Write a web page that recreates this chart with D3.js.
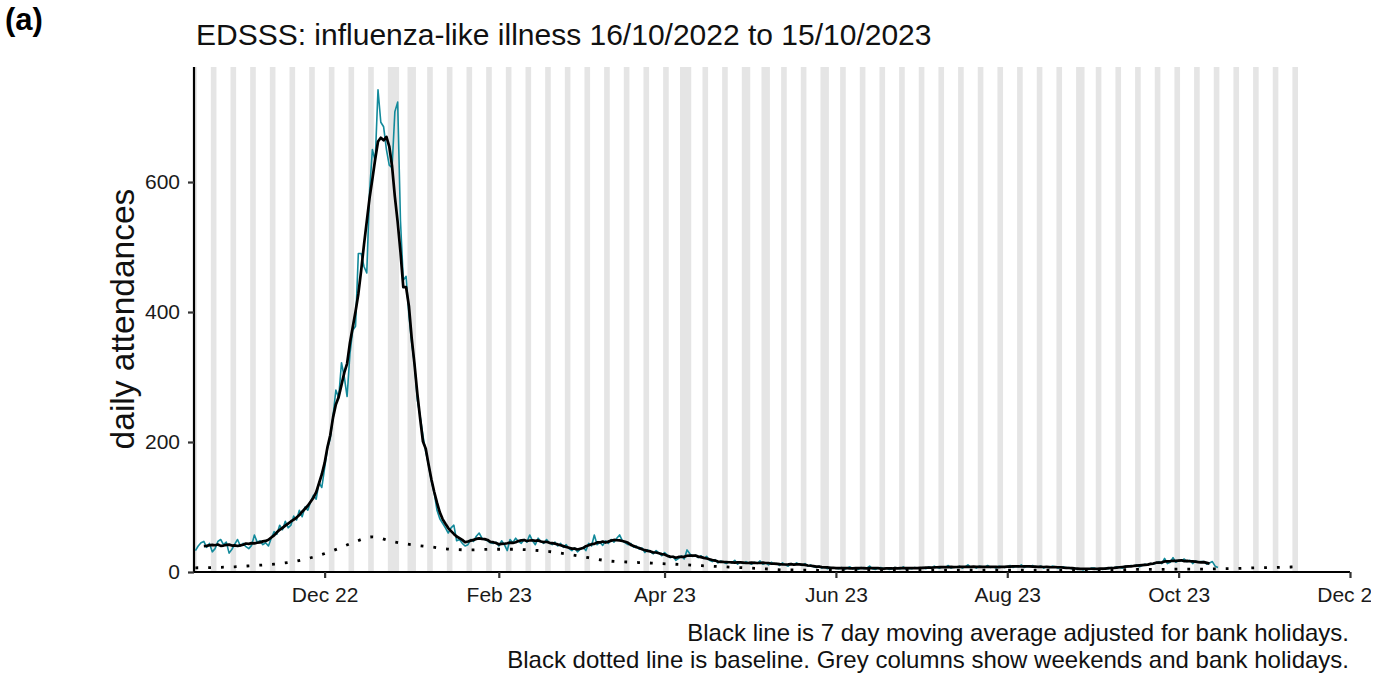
<!DOCTYPE html>
<html>
<head>
<meta charset="utf-8">
<script src="https://cdn.jsdelivr.net/npm/d3@7"></script>
<style>
  body { margin: 0; background: #fff; }
  text { font-family: "Liberation Sans", Arial, sans-serif; }
</style>
</head>
<body>
<div id="chart"></div>
<script>
// daily attendances, one array per month (16/10/2022 to 15/10/2023)
const oct22 = [33, 40, 45, 47, 38, 44, 31, 36, 47, 50, 42, 46, 29, 35, 43, 50];
const nov22 = [40, 44, 39, 36, 41, 57, 46, 48, 42, 45, 40, 52, 62, 58, 72, 65, 78, 68, 72, 86,
               80, 95, 85, 100, 95, 108, 118, 112, 138, 130];
const dec22 = [160, 190, 205, 240, 280, 268, 322, 300, 270, 335, 372, 378, 490, 490, 470, 460,
               585, 650, 632, 742, 692, 685, 650, 626, 622, 708, 723, 540, 449, 455, 395];
const jan23 = [352, 320, 265, 240, 210, 185, 165, 140, 122, 95, 82, 75, 68, 60, 68, 72, 48, 50,
               44, 40, 42, 50, 47, 55, 60, 52, 50, 48, 45, 44, 46];
const feb23 = [40, 48, 42, 33, 50, 45, 52, 47, 44, 50, 46, 57, 48, 42, 52, 47, 44, 50, 45, 42,
               46, 40, 44, 38, 42, 36, 33, 37];
const mar23 = [31, 35, 38, 33, 44, 40, 57, 42, 46, 41, 48, 44, 50, 46, 52, 57, 48, 45, 42, 44,
               38, 40, 35, 37, 30, 34, 31, 28, 33, 29, 25];
const apr23 = [30, 26, 22, 24, 18, 21, 25, 20, 34, 28, 24, 26, 22, 25, 21, 24, 18, 16, 19, 14,
               17, 15, 13, 16, 14, 18, 12, 15, 13, 16];
const may23 = [14, 12, 15, 13, 17, 12, 14, 11, 15, 12, 13, 10, 14, 11, 9, 13, 11, 14, 12, 10,
               13, 9, 11, 8, 7, 9, 6, 8, 5, 7, 6];
const jun23 = [6, 5, 7, 4, 6, 8, 5, 6, 4, 7, 5, 6, 9, 5, 4, 6, 7, 5, 6, 4,
               5, 7, 6, 5, 8, 4, 6, 5, 7, 6];
const jul23 = [6, 7, 5, 8, 6, 9, 7, 6, 8, 7, 10, 6, 8, 7, 9, 6, 8, 11, 7, 8,
               6, 9, 8, 7, 10, 7, 8, 6, 9, 8, 7];
const aug23 = [8, 10, 7, 9, 8, 11, 7, 9, 8, 10, 7, 8, 9, 6, 8, 7, 9, 8, 6, 7,
               8, 6, 7, 5, 6, 4, 5, 3, 5, 4, 6];
const sep23 = [6, 4, 5, 4, 6, 5, 7, 6, 8, 7, 6, 9, 8, 10, 9, 11, 8, 10, 12, 11,
               13, 12, 14, 16, 13, 21, 13, 15, 22, 15];
const oct23 = [18, 17, 20, 16, 18, 13, 17, 15, 16, 16, 12, 14, 16, 9, 7];

// weekly baseline, every 7 days from 16/10/2022 to 12/11/2023
const baselineWeekly = [6.5, 7, 8, 10, 12, 16, 23, 33, 45, 54,
                        47, 42, 38.5, 35, 34, 35, 35, 34, 31.5, 27,
                        22, 17, 15.3, 14, 12.5, 11, 9.3, 7.8, 6.3, 4.8,
                        3.2, 3, 2.5, 2.5, 2.5, 2.5, 2.5, 2.5, 3, 3,
                        3, 3, 3, 3, 3, 3, 3.5, 3.5, 4, 4,
                        4.5, 4.5, 5, 5.5, 6.5, 7, 8];

const bankHolidays = ["2022-12-26", "2022-12-27", "2023-01-02", "2023-04-07", "2023-04-10",
                      "2023-05-01", "2023-05-08", "2023-05-29", "2023-08-28"];
const tickDates = ["2022-12-01", "2023-02-01", "2023-04-01", "2023-06-01", "2023-08-01",
                   "2023-10-01", "2023-12-01"];
const yTicks = [0, 200, 400, 600];

const parse = d3.utcParse("%Y-%m-%d");
const start = parse("2022-10-16");
const columnsEnd = parse("2023-11-12");

const daily = [].concat(oct22, nov22, dec22, jan23, feb23, mar23, apr23, may23,
                        jun23, jul23, aug23, sep23, oct23)
    .map((v, i) => ({date: d3.utcDay.offset(start, i), value: v}));
const holidaySet = new Set(bankHolidays);
const isHoliday = d => holidaySet.has(d3.utcFormat("%Y-%m-%d")(d));

// 7 day centred moving average, bank holidays left out of the window
const movingAvg = [];
for (let i = 3; i < daily.length - 3; i++) {
    let win = daily.slice(i - 3, i + 4).filter(d => !isHoliday(d.date));
    movingAvg.push({date: daily[i].date, value: d3.mean(win, d => d.value)});
}

const baseline = baselineWeekly.map((v, i) => ({date: d3.utcDay.offset(start, i * 7), value: v}));

// weekend + bank holiday runs for the grey columns
const greyRuns = [];
d3.utcDays(start, d3.utcDay.offset(columnsEnd, 1)).forEach(function(d) {
    let wd = d.getUTCDay();
    if (wd === 0 || wd === 6 || isHoliday(d)) {
        let last = greyRuns[greyRuns.length - 1];
        if (last && +d3.utcDay.offset(last.end, 1) === +d) last.end = d;
        else greyRuns.push({start: d, end: d});
    }
});

const width = 1391, height = 674;
const svg = d3.select("#chart").append("svg")
    .attr("width", width)
    .attr("height", height);

const x = d3.scaleUtc()
    .domain([d3.utcHour.offset(start, -12), parse("2023-12-01")])
    .range([194, 1350]);
const y = d3.scaleLinear()
    .domain([0, 777])
    .range([572, 67]);

const half = d => d3.utcHour.offset(d, 12);

// grey columns
svg.append("g")
    .selectAll("rect")
    .data(greyRuns)
    .enter()
    .append("rect")
    .attr("x", d => x(d3.utcHour.offset(d.start, -12)))
    .attr("width", d => x(half(d.end)) - x(d3.utcHour.offset(d.start, -12)))
    .attr("y", y(777))
    .attr("height", y(0) - y(777))
    .attr("fill", "#e5e5e5");

const line = d3.line()
    .x(d => x(d.date))
    .y(d => y(d.value));

svg.append("path")
    .datum(daily)
    .attr("fill", "none")
    .attr("stroke", "#138a9b")
    .attr("stroke-width", 1.6)
    .attr("stroke-linejoin", "round")
    .attr("d", line);

svg.append("path")
    .datum(baseline)
    .attr("fill", "none")
    .attr("stroke", "#000")
    .attr("stroke-width", 2.8)
    .attr("stroke-dasharray", "2.8 10")
    .attr("d", line.curve(d3.curveMonotoneX));

svg.append("path")
    .datum(movingAvg)
    .attr("fill", "none")
    .attr("stroke", "#000")
    .attr("stroke-width", 2.7)
    .attr("stroke-linejoin", "round")
    .attr("d", line.curve(d3.curveLinear));

// axes
svg.append("clipPath").attr("id", "clipx")
    .append("rect").attr("x", 0).attr("y", -12).attr("width", 1371).attr("height", 60);

const xAxis = svg.append("g")
    .attr("transform", "translate(0,572)")
    .attr("clip-path", "url(#clipx)")
    .call(d3.axisBottom(x)
        .tickValues(tickDates.map(parse))
        .tickFormat(d3.utcFormat("%b %y"))
        .tickSize(6)
        .tickPadding(9));

const yAxis = svg.append("g")
    .attr("transform", "translate(194,0)")
    .call(d3.axisLeft(y)
        .tickValues(yTicks)
        .tickSize(6)
        .tickPadding(8));

[xAxis, yAxis].forEach(function(g) {
    g.selectAll(".domain").attr("stroke", "#000").attr("stroke-width", 2.2);
    g.selectAll(".tick line").attr("stroke", "#333").attr("stroke-width", 2.2);
    g.selectAll(".tick text").attr("fill", "#1a1a1a").style("font-size", "21px");
});
yAxis.select(".domain").attr("d", "M0,67V572");
xAxis.select(".domain").attr("d", "M194,0H1350");

// texts
svg.append("text")
    .attr("x", 5).attr("y", 30)
    .style("font-size", "31px").style("font-weight", "bold")
    .text("(a)");

svg.append("text")
    .attr("x", 196).attr("y", 45)
    .style("font-size", "30px")
    .attr("fill", "#111")
    .text("EDSSS: influenza-like illness 16/10/2022 to 15/10/2023");

svg.append("text")
    .attr("transform", "translate(134,319) rotate(-90)")
    .attr("text-anchor", "middle")
    .style("font-size", "33.5px")
    .attr("fill", "#111")
    .text("daily attendances");

const notes = ["Black line is 7 day moving average adjusted for bank holidays.",
               "Black dotted line is baseline. Grey columns show weekends and bank holidays."];
svg.selectAll(".note")
    .data(notes)
    .enter()
    .append("text")
    .attr("class", "note")
    .attr("x", 1349)
    .attr("y", (d, i) => 641 + i * 27)
    .attr("text-anchor", "end")
    .style("font-size", "24px")
    .attr("fill", "#111")
    .text(d => d);
</script>
</body>
</html>
